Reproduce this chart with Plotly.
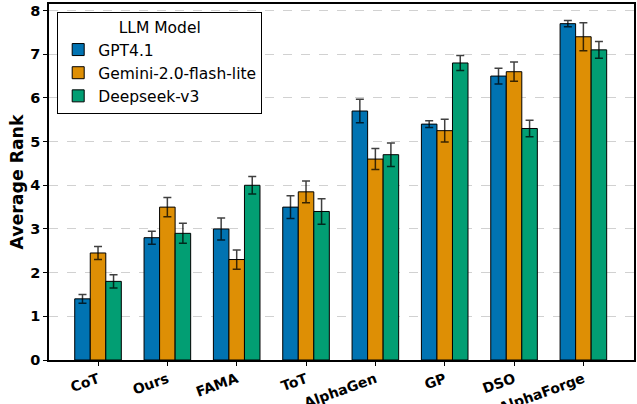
import plotly.graph_objects as go

categories = ["CoT", "Ours", "FAMA", "ToT", "AlphaGen", "GP", "DSO", "AlphaForge"]
models = ["GPT4.1", "Gemini-2.0-flash-lite", "Deepseek-v3"]
gpt_vals = [1.4, 2.8, 3.0, 3.5, 5.7, 5.4, 6.5, 7.7]
gpt_err = [0.1, 0.15, 0.25, 0.26, 0.27, 0.08, 0.18, 0.07]
gem_vals = [2.45, 3.5, 2.3, 3.85, 4.6, 5.25, 6.6, 7.4]
gem_err = [0.15, 0.22, 0.22, 0.25, 0.24, 0.26, 0.22, 0.32]
ds_vals = [1.8, 2.9, 4.0, 3.4, 4.7, 6.8, 5.3, 7.1]
ds_err = [0.15, 0.23, 0.2, 0.29, 0.27, 0.17, 0.19, 0.19]
colors = ["#0173B2", "#DE8F05", "#029E73"]

series = [(gpt_vals, gpt_err), (gem_vals, gem_err), (ds_vals, ds_err)]

fig = go.Figure()
for name, (vals, errs), col in zip(models, series, colors):
    fig.add_trace(go.Bar(
        x=categories, y=vals, name=name,
        marker=dict(color=col, line=dict(color="black", width=1)),
        error_y=dict(type="data", array=errs, visible=True,
                     color="rgba(0,0,0,0.75)", thickness=1.5, width=4),
    ))

font_family = "DejaVu Sans"
fig.update_layout(
    width=637, height=404,
    margin=dict(l=49, r=3, t=4, b=44),
    paper_bgcolor="white", plot_bgcolor="white",
    barmode="group", bargap=0.328, bargroupgap=0,
    font=dict(family=font_family, color="black"),
    showlegend=True,
    legend=dict(
        x=0.014, y=0.978, xanchor="left", yanchor="top",
        bgcolor="white", bordercolor="black", borderwidth=1,
        font=dict(size=15.5, family=font_family),
        title=dict(text="LLM Model", side="top center",
                   font=dict(size=15.5, family=font_family)),
    ),
)
fig.update_xaxes(
    range=[-0.707, 7.73],
    tickangle=-20,
    automargin=False,
    tickfont=dict(size=14, family=font_family, weight="bold"),
    ticks="outside", ticklen=4, tickcolor="black",
    showline=True, linecolor="black", linewidth=1.5, mirror=True,
    showgrid=False,
)
fig.update_yaxes(
    range=[0, 8.15],
    automargin=False,
    tickvals=[0, 1, 2, 3, 4, 5, 6, 7, 8],
    tickfont=dict(size=14.5, family=font_family, weight="bold"),
    ticks="outside", ticklen=4, tickcolor="black",
    showline=True, linecolor="black", linewidth=1.5, mirror=True,
    showgrid=True, gridcolor="rgba(190,190,190,0.7)", griddash="dash", gridwidth=1,
    zeroline=False,
    title=dict(text="Average Rank", font=dict(size=17.3, family=font_family, weight="bold"), standoff=2),
)

fig.write_html("out.html")
